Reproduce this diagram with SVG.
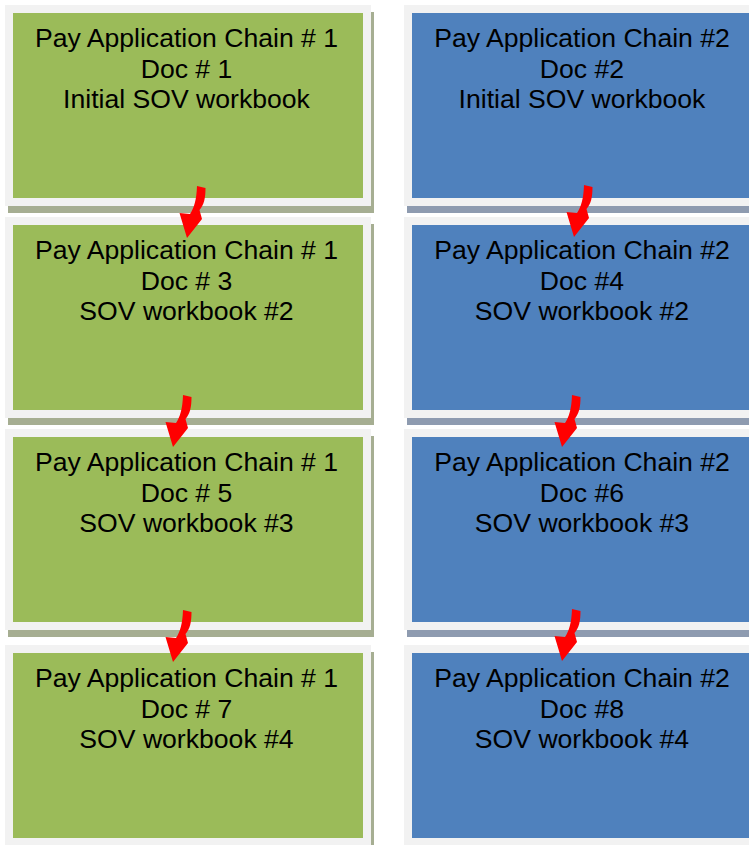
<svg xmlns="http://www.w3.org/2000/svg" xmlns:xlink="http://www.w3.org/1999/xlink" width="749" height="845" viewBox="0 0 749 845">
<style>
.frame{fill:#f2f2f2}
.g{fill:#9bbb59}
.b{fill:#4f81bd}
.gs{fill:#a6ae92}
.bs{fill:#8e9bb0}
text{font-family:"Liberation Sans",Arial,sans-serif;font-size:26.6px;fill:#000;text-anchor:middle}
.arrow{fill:#ff0000}
</style>
<defs>
<path id="arr" d="M10,-52 L18.5,-50 C18.5,-40 17,-33 12.5,-28 L15,-19 L0,0 L-7.5,-25 L3,-24 C7,-30 9.5,-38 10,-52 Z"/>
</defs>
<rect width="749" height="845" fill="#fff"/>
<g id="node-l1">
<rect class="gs" x="8" y="12" width="366" height="201"/>
<rect class="frame" x="5" y="5" width="366" height="201"/>
<rect class="g" x="13" y="13" width="350" height="185"/>
<text x="186.5" y="47">Pay Application Chain # 1</text>
<text x="186.5" y="78">Doc # 1</text>
<text x="186.5" y="108">Initial SOV workbook</text>
</g>
<g id="node-r1">
<rect class="bs" x="407" y="12" width="366" height="201"/>
<rect class="frame" x="404" y="5" width="366" height="201"/>
<rect class="b" x="412" y="13" width="350" height="185"/>
<text x="582" y="47">Pay Application Chain #2</text>
<text x="582" y="78">Doc #2</text>
<text x="582" y="108">Initial SOV workbook</text>
</g>
<g id="node-l2">
<rect class="gs" x="8" y="224" width="366" height="201"/>
<rect class="frame" x="5" y="217" width="366" height="201"/>
<rect class="g" x="13" y="225" width="350" height="185"/>
<text x="186.5" y="259">Pay Application Chain # 1</text>
<text x="186.5" y="290">Doc # 3</text>
<text x="186.5" y="320">SOV workbook #2</text>
</g>
<g id="node-r2">
<rect class="bs" x="407" y="224" width="366" height="201"/>
<rect class="frame" x="404" y="217" width="366" height="201"/>
<rect class="b" x="412" y="225" width="350" height="185"/>
<text x="582" y="259">Pay Application Chain #2</text>
<text x="582" y="290">Doc #4</text>
<text x="582" y="320">SOV workbook #2</text>
</g>
<g id="node-l3">
<rect class="gs" x="8" y="436" width="366" height="201"/>
<rect class="frame" x="5" y="429" width="366" height="201"/>
<rect class="g" x="13" y="437" width="350" height="185"/>
<text x="186.5" y="471">Pay Application Chain # 1</text>
<text x="186.5" y="502">Doc # 5</text>
<text x="186.5" y="532">SOV workbook #3</text>
</g>
<g id="node-r3">
<rect class="bs" x="407" y="436" width="366" height="201"/>
<rect class="frame" x="404" y="429" width="366" height="201"/>
<rect class="b" x="412" y="437" width="350" height="185"/>
<text x="582" y="471">Pay Application Chain #2</text>
<text x="582" y="502">Doc #6</text>
<text x="582" y="532">SOV workbook #3</text>
</g>
<g id="node-l4">
<rect class="gs" x="8" y="652" width="366" height="201"/>
<rect class="frame" x="5" y="645" width="366" height="201"/>
<rect class="g" x="13" y="653" width="350" height="185"/>
<text x="186.5" y="687">Pay Application Chain # 1</text>
<text x="186.5" y="718">Doc # 7</text>
<text x="186.5" y="748">SOV workbook #4</text>
</g>
<g id="node-r4">
<rect class="bs" x="407" y="652" width="366" height="201"/>
<rect class="frame" x="404" y="645" width="366" height="201"/>
<rect class="b" x="412" y="653" width="350" height="185"/>
<text x="582" y="687">Pay Application Chain #2</text>
<text x="582" y="718">Doc #8</text>
<text x="582" y="748">SOV workbook #4</text>
</g>
<g id="connectors">
<use xlink:href="#arr" href="#arr" class="arrow" transform="translate(187,238)"/>
<use xlink:href="#arr" href="#arr" class="arrow" transform="translate(574,237)"/>
<use xlink:href="#arr" href="#arr" class="arrow" transform="translate(173,447)"/>
<use xlink:href="#arr" href="#arr" class="arrow" transform="translate(562,447)"/>
<use xlink:href="#arr" href="#arr" class="arrow" transform="translate(173,662)"/>
<use xlink:href="#arr" href="#arr" class="arrow" transform="translate(562,661)"/>
</g>
</svg>
